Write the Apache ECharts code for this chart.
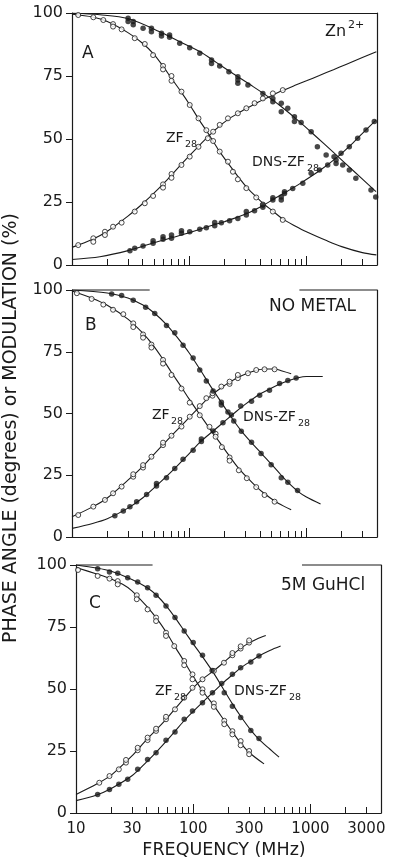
<!DOCTYPE html>
<html><head><meta charset="utf-8">
<script src="https://cdn.jsdelivr.net/npm/echarts@6/dist/echarts.min.js"></script>
<style>html,body{margin:0;padding:0;background:#fff}#c{width:400px;height:866px}</style>
</head><body><div id="c"></div>
<script>
// ---------- axis ticks / labels ----------
const freqMinorTicks = [20,30,40,50,60,70,80,90,200,300,400,500,600,700,800,900,2000,3000];
const freqMajorTicks = [100,1000];
const freqLabels = [10,30,100,300,1000,3000];
const frameTopB = [[10,46],[871,4000]];
const frameTopC = [[10,45],[847,4000]];

// ---------- Panel A (Zn2+) ----------
const aZfModPts = [[11.3,99.2],[15.2,98.3],[18.5,97.2],[22.4,95.6],[22.4,94.6],[26.5,93.5],[34.3,90],[41.8,87.7],[49.2,83.3],[59.8,79],[59.8,77.6],[70.6,75],[70.6,73.1],[85.9,68.8],[101,63.5],[120,58.2],[140,53.5],[160,49.2],[182,45],[214,41],[236,37],[260,34],[307,30.5],[373,26.8],[425,24],[517,21.2],[628,17.9]];
const aZfModLine = [[10,99.5],[15,98.4],[20,96.6],[30,92.2],[40,88],[50,83.6],[60,78.8],[70,74.3],[85,68.8],[100,63.9],[120,58],[150,51.2],[180,45.3],[215,40.3],[260,35.2],[310,30.8],[370,27.2],[430,24.3],[520,21.3],[630,18.2],[800,15.5],[1000,13.2],[1500,9.6],[2000,7.3],[3000,4.9],[3950,4]];
const aZfPhPts = [[11.3,7.9],[15.2,10.6],[15.2,9.2],[19.1,13.2],[19.1,11.9],[22.4,15.2],[26.5,16.8],[34.3,21.2],[41.8,24.5],[49.2,27.4],[59.8,32],[59.8,30.7],[70.6,36.1],[70.6,34.6],[85.9,39.7],[101,43],[120,46.9],[144,50.3],[160,52.9],[182,55.6],[214,58.2],[260,60.2],[307,62.2],[361,64.2],[425,66.1],[517,68.1],[628,69.4]];
const aZfPhLine = [[10,7],[15,10.2],[20,13.4],[30,19.4],[40,24.3],[50,28.5],[60,32.2],[70,35.5],[85,39.8],[100,43.3],[120,47.1],[150,51.6],[180,55],[215,57.8],[260,60.2],[310,62.2],[370,64.1],[430,65.7],[520,67.5],[630,69.3],[800,71.3],[1000,73.1],[1290,75.2],[1700,77.5],[2175,79.6],[3000,82.3],[3950,84.6]];
const aDnsModPts = [[30.1,97.9],[30.1,96.6],[33.3,96.6],[33.3,95.3],[40.4,93.9],[47.6,93.9],[47.6,92.6],[58,92],[58,90.9],[68,91.3],[68,90.4],[83,88],[101,86.2],[123,84],[155,81.3],[155,80],[182,79],[218,76.7],[260,74.7],[260,73.4],[260,72.1],[317,71.4],[425,68.1],[517,66.1],[517,64.8],[610,64.2],[610,60.8],[693,62.2],[790,58.8],[790,56.9],[901,56.5],[1097,52.9],[1240,46.9],[1473,43.7],[1720,43],[1790,40.3],[2040,39.7],[2322,37.7],[2640,34.4],[3555,29.8],[3900,27]];
const aDnsModLine = [[10,100],[17.3,99.3],[30,97.8],[56,92.6],[80,89],[123,84.7],[170,80.4],[236,76],[330,71.6],[454,67.3],[620,62.6],[871,56.9],[1200,51.1],[1674,45],[2500,37.5],[3920,29.1]];
const aDnsPhPts = [[31.2,5.7],[34.3,6.6],[40.4,7.5],[49.2,8.6],[49.2,9.6],[59.8,10.2],[59.8,11.2],[70.6,10.6],[70.6,11.9],[85.9,12.6],[85.9,13.6],[101,13.2],[123,14.2],[140,14.8],[165,15.6],[165,16.9],[188,16.8],[221,17.6],[260,18.5],[307,19.8],[307,21.2],[361,21.5],[425,22.9],[425,23.8],[517,25.8],[517,26.7],[610,25.8],[610,27],[650,29.1],[650,28.4],[764,30.4],[931,32.4],[1097,36.4],[1291,37.7],[1519,39.7],[1790,41.7],[1974,44.3],[2322,46.9],[2736,50.3],[3222,53.6],[3793,56.9]];
const aDnsPhLine = [[10,2.2],[17.3,3.3],[30.1,5.7],[50,8.8],[100,12.8],[150,15.5],[200,17.2],[300,20.1],[425,23.6],[520,26],[650,28.6],[900,32.6],[1300,37.5],[1800,42.5],[2500,48.5],[3200,53.5],[3920,57.5]];

// ---------- Panel B (no metal) ----------
const bZfModPts = [[11,98.7],[14.7,96.4],[18.5,94.1],[22.4,92],[27.4,90.2],[33.3,86.5],[33.3,85],[40.4,82],[40.4,80.7],[47.6,77.9],[47.6,76.7],[59.8,71.7],[59.8,70.2],[70.6,65.6],[85.9,60.1],[101,54.4],[123,49.3],[149,44.6],[168,41.8],[168,40.6],[190,36.4],[221,32.2],[221,30.9],[265,27],[310,23.8],[373,20.2],[439,17],[535,14.3]];
const bZfModLine = [[10,99.6],[15,96.6],[20,93.8],[30,88.2],[40,82.6],[50,77.2],[60,71.8],[70,66.9],[85,61],[100,55.8],[123,49.6],[150,43.8],[180,38.6],[220,32.8],[260,28.2],[310,24.2],[373,20.4],[440,17.5],[535,14.6],[640,12.5],[741,11]];
const bZfPhPts = [[11.3,8.9],[15.2,12.3],[19.1,15],[22.4,17.7],[26.5,20.4],[33.3,24.4],[33.3,25.4],[40.4,28.1],[40.4,29.1],[47.6,32.5],[59.8,37.2],[59.8,38.2],[70.6,41],[85.9,44.7],[101,48.7],[123,53],[140,56.2],[158,57.2],[158,58.2],[188,60.9],[221,62],[221,62.9],[260,64.3],[260,65.6],[317,66.3],[373,67.6],[439,67.9],[535,67.9]];
const bZfPhLine = [[10,8.2],[15,12.2],[20,15.8],[30,23],[40,28.5],[50,33.5],[60,37.5],[70,40.8],[85,44.9],[100,48.4],[123,52.8],[150,56.8],[190,60.6],[220,62.6],[260,64.6],[310,66.2],[370,67.4],[440,68],[535,68],[620,67.2],[741,66.1]];
const bDnsModPts = [[21.8,98.4],[26.5,97.8],[33.3,95.8],[42.5,93],[50.8,90.5],[64,85.6],[75.3,82.7],[88.6,77.6],[108,72.5],[123,67.6],[140,63.2],[160,59.1],[188,54.6],[188,53.4],[214,50.6],[240,47],[278,42.8],[340,38.4],[410,33.8],[500,29.3],[610,24],[694,22.2],[840,18.8]];
const bDnsModLine = [[10,100],[20,98.8],[30,96.8],[40,94],[50,90.8],[64,86],[80,80.5],[100,74.5],[123,68],[150,61.5],[188,54.5],[230,48.3],[278,43],[340,38.2],[410,34],[500,29.6],[610,25],[700,22],[840,18.6],[1000,16.2],[1320,13.4]];
const bDnsPhPts = [[23.2,8.6],[27.4,10.5],[31.2,12.2],[35.6,14.3],[43.3,17.2],[52.6,20.6],[52.6,21.7],[64,24],[75.3,27.7],[88.6,31.5],[108,35.1],[127,38.7],[127,39.7],[160,42.9],[194,46.3],[229,49.4],[275,53],[340,55],[399,57.4],[484,59.4],[590,62.1],[694,63.4],[817,64.4]];
const bDnsPhLine = [[10,3.5],[15,5.5],[20,7.4],[30,11.7],[40,15.8],[52.6,20.8],[75,27.7],[100,33.8],[127,38.9],[160,42.9],[200,46.8],[250,50.7],[300,53.7],[400,57.8],[500,60.2],[600,62],[700,63.3],[850,64.5],[1000,65],[1377,65]];

// ---------- Panel C (5M GuHCl) ----------
const cZfModPts = [[10.4,98],[15.3,95.6],[19.3,94.5],[22.7,93.5],[22.7,92.2],[33,87.8],[33,86.2],[40.8,82.1],[48.2,78.8],[48.2,77.4],[58.6,72.7],[58.6,71.4],[68.9,67.3],[83.8,61.3],[83.8,59.6],[98.6,55.9],[98.6,53.9],[120,49.9],[120,48.5],[150,44.2],[150,42.8],[184,37.2],[184,35.8],[216,33],[216,31.7],[254,29],[254,27.3],[300,25],[300,23.7]];
const cZfModLine = [[10,99],[15,96.4],[20,94.4],[25,92.2],[30,89.6],[40,83.4],[50,77.8],[60,72.3],[70,67],[85,60.6],[100,55],[120,49.3],[150,43.3],[184,37.3],[216,32.6],[254,28.2],[300,24.4],[402,19.8]];
const cZfPhPts = [[15.8,12.2],[19.3,14.9],[23.2,17.6],[26.7,20.3],[26.7,21.4],[33.6,25.3],[33.6,26.3],[40.8,29.4],[40.8,30.4],[48.2,33.1],[48.2,34],[58.6,37.8],[58.6,38.8],[69.9,41.8],[83.8,46.5],[98.6,50.5],[120,53.9],[150,57.3],[183,60.6],[216,63.6],[216,64.5],[254,66.3],[254,67.2],[300,68.7],[300,69.6]];
const cZfPhLine = [[10,7.5],[15,11.7],[20,15.3],[30,23],[40,29.6],[50,34.3],[60,38.3],[70,42],[85,46.6],[100,50.5],[120,54],[150,57.4],[183,60.8],[216,63.8],[254,66.4],[300,68.6],[350,70.2],[416,71.6]];
const cDnsModPts = [[15.3,98.5],[19.3,97.2],[22.7,96.7],[27.6,94.9],[33.6,93.1],[40.8,90.8],[48.2,87.8],[58.6,83.5],[69.9,78.8],[83.8,73.4],[100,68.7],[120,63.6],[145,57.5],[184,48.5],[216,43],[254,38.5],[310,33.3],[364,30]];
const cDnsModLine = [[10,100],[15,98.8],[20,97.5],[30,94.2],[40,91],[50,87.3],[60,83],[70,78.8],[85,73],[100,68.2],[120,63],[150,56.3],[184,49.4],[216,44],[254,39],[310,33.4],[364,29.7],[450,25.8],[540,22.5]];
const cDnsPhPts = [[15.3,7.5],[19.3,9.5],[23.2,11.6],[27.6,13.6],[33.6,17.6],[40.8,21.6],[48.2,24.3],[58.6,29.3],[69.9,32.7],[83.8,37.8],[98.6,41.1],[120,44.5],[146,48.5],[175,52.2],[216,55.9],[254,58.6],[310,60.9],[364,63.3]];
const cDnsPhLine = [[10,5],[15,7.3],[20,9.9],[30,15],[40,20.6],[50,25.3],[60,29.4],[70,33],[85,37.6],[100,41],[120,44.6],[150,49],[180,52.5],[216,55.7],[254,58.5],[310,61.2],[364,63.3],[450,65.5],[557,67.3]];

// ---------- build ----------
const FONT = '"DejaVu Sans", "Liberation Sans", sans-serif';
const INK = '#1a1a1a';
const panels = [
  {lines:[aZfModLine,aZfPhLine,aDnsModLine,aDnsPhLine], open:[aZfModPts,aZfPhPts], filled:[aDnsModPts,aDnsPhPts]},
  {lines:[bZfModLine,bZfPhLine,bDnsModLine,bDnsPhLine], open:[bZfModPts,bZfPhPts], filled:[bDnsModPts,bDnsPhPts]},
  {lines:[cZfModLine,cZfPhLine,cDnsModLine,cDnsPhLine], open:[cZfModPts,cZfPhPts], filled:[cDnsModPts,cDnsPhPts]}
];
const grids = [
  {left:72, top:13, width:305, height:252},
  {left:72, top:290, width:305, height:247},
  {left:76, top:565, width:305, height:248}
];
const xAxes = [], yAxes = [], series = [], mainX = [], leftY = [];
grids.forEach((g, i) => {
  mainX[i] = xAxes.length;
  xAxes.push({
    type:'log', logBase:10, gridIndex:i, min:10, max:4000, position:'bottom',
    axisLine:{show:true, onZero:false, lineStyle:{color:INK, width:1.2}},
    axisTick:{show:true, inside:true, length:6, customValues:freqMinorTicks, lineStyle:{color:INK, width:1}},
    axisLabel: i === 2 ? {show:true, customValues:freqLabels, fontSize:15, color:INK, fontFamily:FONT, margin:9,
      formatter:(v)=>String(Math.round(v))} : {show:false},
    splitLine:{show:false}, minorTick:{show:false}
  });
  xAxes.push({
    type:'log', logBase:10, gridIndex:i, min:10, max:4000, position:'bottom',
    axisLine:{show:false, onZero:false},
    axisTick:{show:true, inside:true, length:9, customValues:freqMajorTicks, lineStyle:{color:INK, width:1}},
    axisLabel:{show:false}, splitLine:{show:false}
  });
  if (i === 0) {
    xAxes.push({
      type:'log', logBase:10, gridIndex:i, min:10, max:4000, position:'top',
      axisLine:{show:true, onZero:false, lineStyle:{color:INK, width:1.2}},
      axisTick:{show:false}, axisLabel:{show:false}, splitLine:{show:false}
    });
  }
  leftY[i] = yAxes.length;
  yAxes.push({
    type:'value', gridIndex:i, min:0, max:100, interval:25, position:'left',
    axisLine:{show:true, onZero:false, lineStyle:{color:INK, width:1.2}},
    axisTick:{show:true, inside:false, length:6, lineStyle:{color:INK, width:1}},
    axisLabel:{fontSize:16, color:INK, fontFamily:FONT, margin:9},
    splitLine:{show:false}
  });
  yAxes.push({
    type:'value', gridIndex:i, min:0, max:100, interval:25, position:'right',
    axisLine:{show:true, onZero:false, lineStyle:{color:INK, width:1.2}},
    axisTick:{show:false}, axisLabel:{show:false}, splitLine:{show:false}
  });
  const p = panels[i];
  p.lines.forEach(d => series.push({
    type:'line', xAxisIndex:mainX[i], yAxisIndex:leftY[i], data:d, smooth:0.3,
    symbol:'none', lineStyle:{color:INK, width:1.1}, z:2, silent:true
  }));
  p.open.forEach(d => series.push({
    type:'scatter', xAxisIndex:mainX[i], yAxisIndex:leftY[i], data:d, symbol:'circle', symbolSize:5,
    itemStyle:{color:'#fff', borderColor:INK, borderWidth:1}, z:3
  }));
  p.filled.forEach(d => series.push({
    type:'scatter', xAxisIndex:mainX[i], yAxisIndex:leftY[i], data:d, symbol:'circle', symbolSize:5.5,
    itemStyle:{color:INK}, z:3
  }));
});

const chart = echarts.init(document.getElementById('c'), null, {renderer:'canvas'});
chart.setOption({
  animation:false, backgroundColor:'#fff',
  grid:grids, xAxis:xAxes, yAxis:yAxes, series:series
});

function txt(x, y, s, size, extra) {
  return Object.assign({type:'text', x:x, y:y, z:10, silent:true,
    style:{text:s, fontSize:size, fontFamily:FONT, fill:INK, align:'left', verticalAlign:'middle'}}, extra || {});
}
const g = [
  txt(82, 53.5, 'A', 17), txt(85, 326, 'B', 17), txt(89, 603.5, 'C', 17),
  txt(325, 32, 'Zn', 16), txt(348, 25, '2+', 11),
  txt(269, 307, 'NO METAL', 17),
  txt(281, 586, '5M GuHCl', 17),
  txt(166, 138, 'ZF', 14), txt(185, 145, '28', 9.5),
  txt(252, 162, 'DNS-ZF', 14), txt(307, 169, '28', 9.5),
  txt(152, 415, 'ZF', 14), txt(171, 422, '28', 9.5),
  txt(243, 417, 'DNS-ZF', 14), txt(298, 424, '28', 9.5),
  txt(155, 691, 'ZF', 14), txt(174, 698, '28', 9.5),
  txt(234, 691, 'DNS-ZF', 14), txt(289, 698, '28', 9.5),
  {type:'text', x:224, y:850, z:10, silent:true,
   style:{text:'FREQUENCY (MHz)', fontSize:17.5, fontFamily:FONT, fill:INK, align:'center', verticalAlign:'middle'}},
  {type:'text', x:11, y:428, rotation:Math.PI/2, z:10, silent:true,
   style:{text:'PHASE ANGLE (degrees) or MODULATION (%)', fontSize:19, fontFamily:FONT, fill:INK, align:'center', verticalAlign:'middle'}}
];
[[1, frameTopB], [2, frameTopC]].forEach(([gi, segs]) => {
  segs.forEach(seg => {
    const p0 = chart.convertToPixel({xAxisIndex:mainX[gi], yAxisIndex:leftY[gi]}, [seg[0], 100]);
    const p1 = chart.convertToPixel({xAxisIndex:mainX[gi], yAxisIndex:leftY[gi]}, [seg[1], 100]);
    g.push({type:'line', z:5, silent:true, shape:{x1:p0[0], y1:p0[1], x2:p1[0], y2:p1[1]},
      style:{stroke:INK, lineWidth:1.2}});
  });
});
chart.setOption({graphic:g});
</script></body></html>
